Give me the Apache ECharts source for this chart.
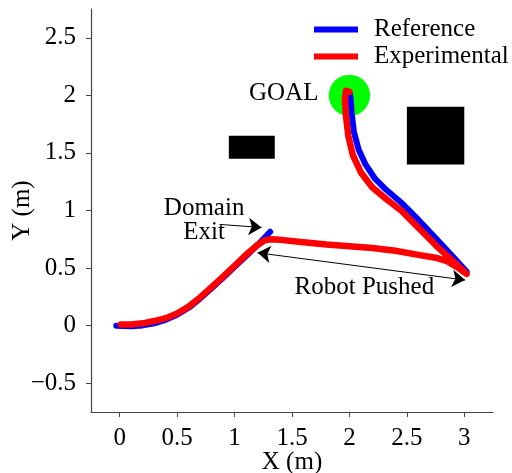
<!DOCTYPE html>
<html>
<head>
<meta charset="utf-8">
<script src="https://cdn.jsdelivr.net/npm/echarts@6/dist/echarts.min.js"></script>
<style>
  html, body { margin: 0; padding: 0; background: #fff; }
  #chart { width: 512px; height: 473px; }
</style>
</head>
<body>
<div id="chart"></div>
<script>
// Axis tick positions
const xTicks = [0, 0.5, 1, 1.5, 2, 2.5, 3];
const yTicks = [-0.5, 0, 0.5, 1, 1.5, 2, 2.5];

// Planned path: approach leg, then (after the push) the leg from the push point to the goal
const referenceApproach = [
  [-0.03, 0.0], [0.1, -0.005], [0.2, 0.002], [0.3, 0.02], [0.4, 0.05], [0.5, 0.095],
  [0.6, 0.155], [0.7, 0.235], [0.8, 0.325], [0.9, 0.415], [1.0, 0.51], [1.1, 0.605],
  [1.2, 0.7], [1.31, 0.815]
];
const referenceReturn = [
  [3.02, 0.47], [2.9, 0.6], [2.75, 0.76], [2.6, 0.92], [2.45, 1.07], [2.32, 1.18],
  [2.22, 1.28], [2.14, 1.4], [2.08, 1.53], [2.04, 1.68], [2.02, 1.84], [2.01, 1.98], [2.0, 2.02]
];

// Measured robot trajectory (continuous, including the push)
const experimentalPath = [
  [0.01, 0.01], [0.1, 0.01], [0.2, 0.02], [0.3, 0.04], [0.4, 0.065], [0.5, 0.105],
  [0.6, 0.165], [0.7, 0.245], [0.8, 0.335], [0.9, 0.425], [1.0, 0.52], [1.1, 0.615],
  [1.2, 0.7], [1.26, 0.74], [1.31, 0.75], [1.4, 0.745], [1.6, 0.725], [1.8, 0.705],
  [2.0, 0.69], [2.2, 0.675], [2.4, 0.65], [2.6, 0.615], [2.75, 0.59], [2.85, 0.56],
  [2.95, 0.5], [3.02, 0.45],
  [2.88, 0.58], [2.75, 0.7], [2.6, 0.85], [2.45, 1.0], [2.32, 1.1], [2.2, 1.2],
  [2.1, 1.33], [2.03, 1.48], [1.99, 1.65], [1.97, 1.82], [1.96, 1.97], [1.97, 2.04], [2.0, 2.03]
];

// Obstacles as [xMin, yMin, xMax, yMax]
const obstacles = [
  [0.95, 1.45, 1.35, 1.65],
  [2.5, 1.4, 3.0, 1.9]
];
// Goal region as [x, y, radius]
const goal = [[2.0, 2.0, 0.18]];

// Annotation texts and arrows
const notes = [
  { text: 'GOAL', pos: [1.73, 2.02], align: 'right' },
  { text: 'Domain\nExit', pos: [0.735, 0.915], align: 'center' },
  { text: 'Robot Pushed', pos: [2.13, 0.33], align: 'center' }
];
const exitArrow = [[0.87, 0.879], [1.235, 0.853]];
const pushArrow = [[1.2, 0.633], [3.007, 0.396]];

const FONT = '"Liberation Serif", "DejaVu Serif", serif';
const referenceData = referenceApproach.concat([[null, null]], referenceReturn);
const fmt = v => (v < 0 ? '\u2212' : '') + String(+Math.abs(v).toFixed(2));

const chart = echarts.init(document.getElementById('chart'));

chart.setOption({
  animation: false,
  backgroundColor: '#fff',
  grid: { left: 91, right: 19, top: 9, bottom: 61, containLabel: false, outerBoundsMode: 'none' },
  legend: {
    data: ['Reference', 'Experimental'],
    orient: 'vertical',
    left: 309,
    top: 12,
    itemWidth: 44,
    itemHeight: 6,
    itemGap: 2,
    icon: 'rect',
    textStyle: { fontFamily: FONT, fontSize: 25, color: '#000', padding: [0, 0, 0, 11] }
  },
  xAxis: {
    type: 'value', min: -0.25, max: 3.25,
    name: 'X (m)', nameLocation: 'middle', nameGap: 38, nameMoveOverlap: false,
    nameTextStyle: { fontFamily: FONT, fontSize: 25, color: '#000' },
    axisLine: { show: true, onZero: false, lineStyle: { color: '#444', width: 1.2 } },
    axisTick: { show: true, inside: false, length: 5, customValues: xTicks, lineStyle: { color: '#444' } },
    axisLabel: {
      fontFamily: FONT, fontSize: 25, color: '#000', margin: 14,
      customValues: xTicks, formatter: fmt
    },
    splitLine: { show: false }
  },
  yAxis: {
    type: 'value', min: -0.75, max: 2.75,
    name: 'Y (m)', nameLocation: 'middle', nameGap: 56, nameMoveOverlap: false,
    nameTextStyle: { fontFamily: FONT, fontSize: 25, color: '#000' },
    axisLine: { show: true, onZero: false, lineStyle: { color: '#444', width: 1.2 } },
    axisTick: { show: true, inside: false, length: 5, customValues: yTicks, lineStyle: { color: '#444' } },
    axisLabel: {
      fontFamily: FONT, fontSize: 25, color: '#000', margin: 15,
      customValues: yTicks, formatter: fmt
    },
    splitLine: { show: false }
  },
  series: [
    {
      name: 'obstacles',
      type: 'custom',
      silent: true,
      z: 1,
      data: obstacles,
      renderItem: (params, api) => {
        const p0 = api.coord([api.value(0), api.value(3)]);
        const p1 = api.coord([api.value(2), api.value(1)]);
        return {
          type: 'rect',
          shape: { x: p0[0], y: p0[1], width: p1[0] - p0[0], height: p1[1] - p0[1] },
          style: { fill: '#000' }
        };
      }
    },
    {
      name: 'goal',
      type: 'custom',
      silent: true,
      z: 1,
      data: goal,
      renderItem: (params, api) => {
        const c = api.coord([api.value(0), api.value(1)]);
        const r = api.size([api.value(2), 0])[0];
        return {
          type: 'circle',
          shape: { cx: c[0], cy: c[1], r: r },
          style: { fill: '#00ff00' }
        };
      }
    },
    {
      name: 'Reference',
      type: 'line',
      data: referenceData,
      connectNulls: false,
      showSymbol: false,
      z: 3,
      itemStyle: { color: '#0000ff' },
      lineStyle: { color: '#0000ff', width: 6, cap: 'round', join: 'round' }
    },
    {
      name: 'Experimental',
      type: 'line',
      data: experimentalPath,
      showSymbol: false,
      z: 4,
      itemStyle: { color: '#ff0000' },
      lineStyle: { color: '#ff0000', width: 6.5, cap: 'round', join: 'round' }
    },
    {
      name: 'annotations',
      type: 'scatter',
      symbolSize: 0,
      silent: true,
      z: 5,
      itemStyle: { color: '#000', opacity: 1 },
      data: notes.map(n => ({
        value: n.pos,
        label: {
          show: true,
          position: 'inside',
          align: n.align,
          verticalAlign: 'middle',
          formatter: n.text,
          fontFamily: FONT,
          fontSize: 25,
          lineHeight: 24,
          color: '#000',
          opacity: 1,
          textBorderWidth: 0
        }
      })),
      markLine: {
        silent: true,
        animation: false,
        label: { show: false },
        lineStyle: { color: '#000', width: 1, type: 'solid', opacity: 1 },
        symbolSize: 13,
        data: [
          [
            { coord: exitArrow[0], symbol: 'none' },
            { coord: exitArrow[1], symbol: 'arrow' }
          ],
          [
            { coord: pushArrow[0], symbol: 'arrow' },
            { coord: pushArrow[1], symbol: 'arrow' }
          ]
        ]
      }
    }
  ]
});
</script>
</body>
</html>
